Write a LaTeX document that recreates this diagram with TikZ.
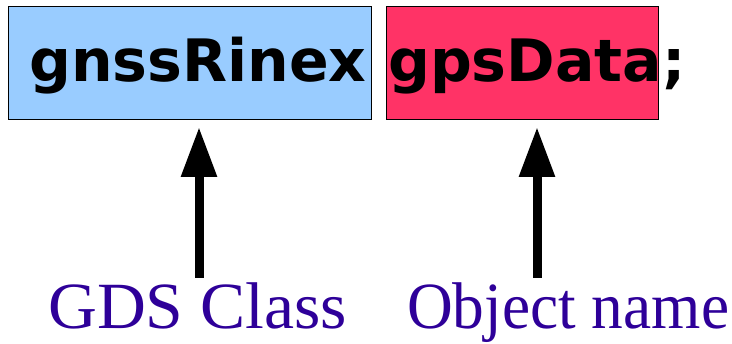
\documentclass[tikz,border=0pt]{standalone}
\usepackage{fontspec}
\setmainfont{Liberation Serif}
\newfontfamily\boxfont{DejaVu Sans}
\usetikzlibrary{arrows.meta}
\definecolor{boxblue}{HTML}{99CCFF}
\definecolor{boxred}{HTML}{FF3366}
\definecolor{labelblue}{HTML}{2E0099}
\tikzset{
  codebox/.style={draw=black, line width=0.8pt, anchor=north west, inner sep=0pt},
  codetext/.style={anchor=base west, inner sep=0pt, font=\boxfont\bfseries\fontsize{58.5}{60}\selectfont},
  labeltext/.style={anchor=base west, inner sep=0pt, text=labelblue, font=\fontsize{66}{70}\selectfont},
  bigarrow/.style={line width=9pt, -{Triangle[width=34pt,length=50pt]}}
}
\begin{document}
\begin{tikzpicture}[x=1pt,y=1pt]
\useasboundingbox (0,0) rectangle (732,-344);
\node[codebox, fill=boxblue, minimum width=363pt, minimum height=113pt] (clsbox) at (8,-6) {};
\node[codebox, fill=boxred, minimum width=272pt, minimum height=113pt] (objbox) at (386,-6) {};
\node[codetext] (clstext) at (29,-82) {gnssRinex};
\node[codetext] (objtext) at (388,-82) {gpsData;};
\node[labeltext] (clslabel) at (48,-329) {\scalebox{1.025}[1]{GDS Class}};
\node[labeltext] (objlabel) at (407,-329) {\scalebox{0.96}[1]{Object name}};
\coordinate (a1s) at (199,-278);
\coordinate (a1e) at (199,-127);
\coordinate (a2s) at (537,-278);
\coordinate (a2e) at (537,-127);
\draw[bigarrow] (a1s) -- (a1e);
\draw[bigarrow] (a2s) -- (a2e);
\end{tikzpicture}
\end{document}
